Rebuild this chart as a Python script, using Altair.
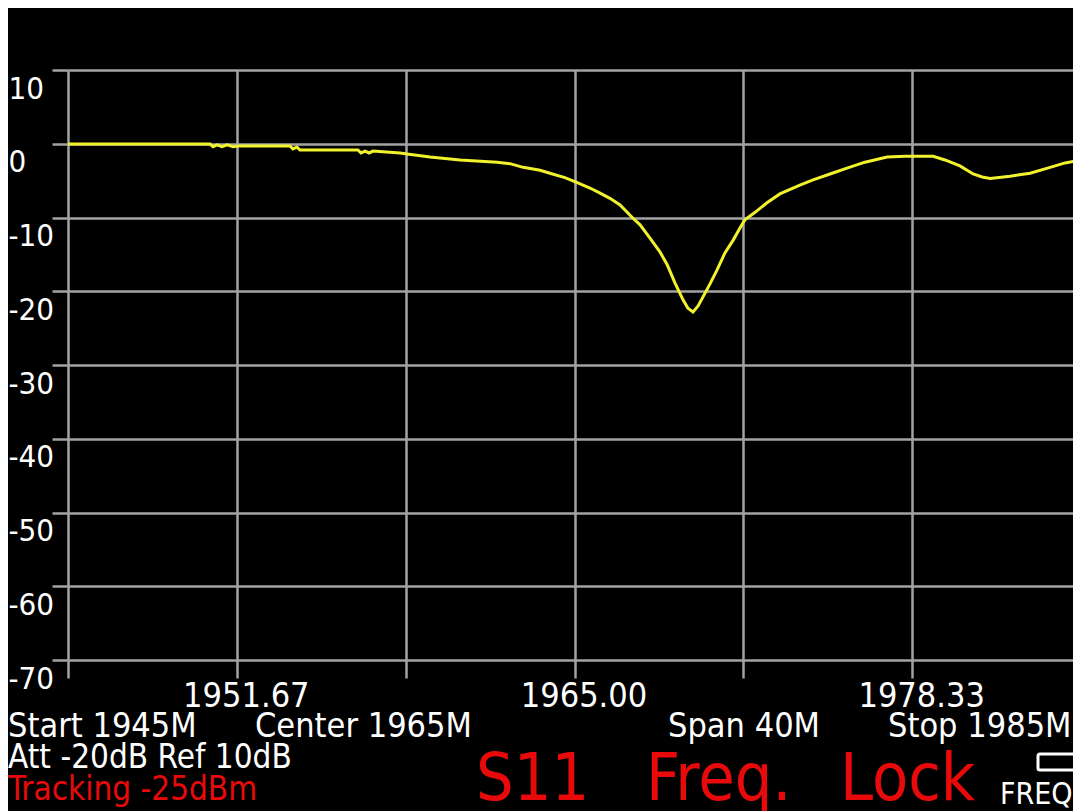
import altair as alt
import pandas as pd

# ---- data ----
freq_mhz = [1945.00, 1948.24, 1950.61, 1950.73, 1950.88, 1951.08, 1951.28, 1951.52,
            1951.71, 1953.77, 1953.88, 1954.04, 1954.16, 1956.45, 1956.57, 1956.73,
            1956.89, 1957.04, 1958.11, 1958.39, 1959.29, 1960.48, 1961.94, 1962.45,
            1962.97, 1963.64, 1964.03, 1964.62, 1965.06, 1965.61, 1966.01, 1966.40,
            1966.80, 1967.31, 1967.59, 1967.98, 1968.38, 1968.66, 1968.97, 1969.29,
            1969.48, 1969.68, 1969.88, 1970.07, 1970.35, 1970.63, 1970.94, 1971.26,
            1971.54, 1971.73, 1972.13, 1972.60, 1973.11, 1973.90, 1974.42, 1975.09,
            1975.76, 1976.47, 1977.34, 1978.05, 1979.16, 1979.63, 1980.22, 1980.74,
            1981.10, 1981.41, 1982.20, 1982.99, 1983.78, 1984.37, 1985.00]
s11_db = [-0.03, -0.03, -0.05, -0.40, -0.15, -0.40, -0.15, -0.40,
          -0.30, -0.30, -0.70, -0.45, -0.85, -0.85, -1.25, -1.00,
          -1.25, -1.00, -1.25, -1.40, -1.80, -2.20, -2.50, -2.70,
          -3.20, -3.60, -4.00, -4.60, -5.20, -6.00, -6.70, -7.40,
          -8.30, -10.10, -11.00, -12.80, -14.70, -16.40, -18.90, -21.20,
          -22.30, -22.80, -22.00, -20.80, -19.00, -17.10, -14.80, -13.10,
          -11.40, -10.30, -9.30, -8.00, -6.80, -5.60, -4.90, -4.10,
          -3.30, -2.50, -1.80, -1.70, -1.70, -2.20, -3.00, -4.10,
          -4.50, -4.70, -4.40, -4.00, -3.20, -2.60, -2.20]

x_ticks = [1945.0, 1951.6667, 1958.3333, 1965.0, 1971.6667, 1978.3333, 1985.0]
y_ticks = [10, 0, -10, -20, -30, -40, -50, -60, -70]

footer_white = ["Start 1945M", "Center 1965M", "Span 40M", "Stop 1985M", "Att -20dB Ref 10dB", "FREQ"]
footer_red = ["Tracking -25dBm", "S11", "Freq.", "Lock"]

FONT = "DejaVu Sans Condensed, DejaVu Sans"
GRID = "#a3a3a3"
YELLOW = "#f2f22c"
RED = "#e80a0a"

df = pd.DataFrame({"freq": freq_mhz, "db": s11_db})

trace = alt.Chart(df).mark_line(color=YELLOW, strokeWidth=3, clip=True).encode(
    x=alt.X("freq:Q",
            scale=alt.Scale(domain=[1945, 1984.684], nice=False, zero=False),
            axis=alt.Axis(values=x_ticks, title=None, grid=True, domain=False,
                          tickSize=18, tickColor=GRID, tickWidth=2.5,
                          gridColor=GRID, gridWidth=2.5, gridOpacity=1,
                          labelColor="white", labelFont=FONT, labelFontSize=34,
                          labelPadding=28, labelBaseline="alphabetic", labelOffset=9,
                          labelAlign="center", labelFlush=False, labelOverlap=False,
                          labelExpr="(round((datum.value-1945)*3/20) % 2 == 1) ? format(datum.value, '.2f') : ''")),
    y=alt.Y("db:Q",
            scale=alt.Scale(domain=[-70, 10], nice=False, zero=False),
            axis=alt.Axis(values=y_ticks, title=None, grid=True, domain=False,
                          tickSize=16, tickColor=GRID, tickWidth=2.5,
                          gridColor=GRID, gridWidth=2.5, gridOpacity=1,
                          labelColor="white", labelFont=FONT, labelFontSize=31,
                          labelAlign="left", labelPadding=44, labelOffset=28,
                          labelBaseline="alphabetic", labelFlush=False, labelOverlap=False,
                          labelExpr="'' + datum.value")),
)


def label(text, px, py, color, size):
    return alt.Chart(pd.DataFrame({"t": [text]})).mark_text(
        align="left", baseline="alphabetic", font=FONT, fontSize=size, color=color
    ).encode(x=alt.value(px), y=alt.value(py), text="t:N")


texts = [
    label(footer_white[0], -60, 667, "white", 34),
    label(footer_white[1], 187, 667, "white", 34),
    label(footer_white[2], 600, 667, "white", 34),
    label(footer_white[3], 820, 667, "white", 34),
    label(footer_white[4], -60, 698, "white", 33),
    label(footer_red[0], -60, 730, RED, 33),
    label(footer_red[1], 408, 730, RED, 66),
    label(footer_red[2], 578, 730, RED, 66),
    label(footer_red[3], 772, 730, RED, 66),
    label(footer_white[5], 932, 734, "white", 30),
]

icon = alt.Chart(pd.DataFrame({"k": [1]})).mark_rect(
    filled=False, stroke="white", strokeWidth=3, cornerRadius=2
).encode(x=alt.value(970), x2=alt.value(1010), y=alt.value(684), y2=alt.value(700))

chart = alt.layer(trace, *texts, icon).properties(
    width=1005, height=590,
    autosize=alt.AutoSizeParams(type="none"),
    padding={"left": 60, "top": 62, "right": 0, "bottom": 151},
    background="black",
).configure_view(stroke=None, fill="black")

chart.save("out.html", embed_options={"renderer": "svg", "actions": False})
